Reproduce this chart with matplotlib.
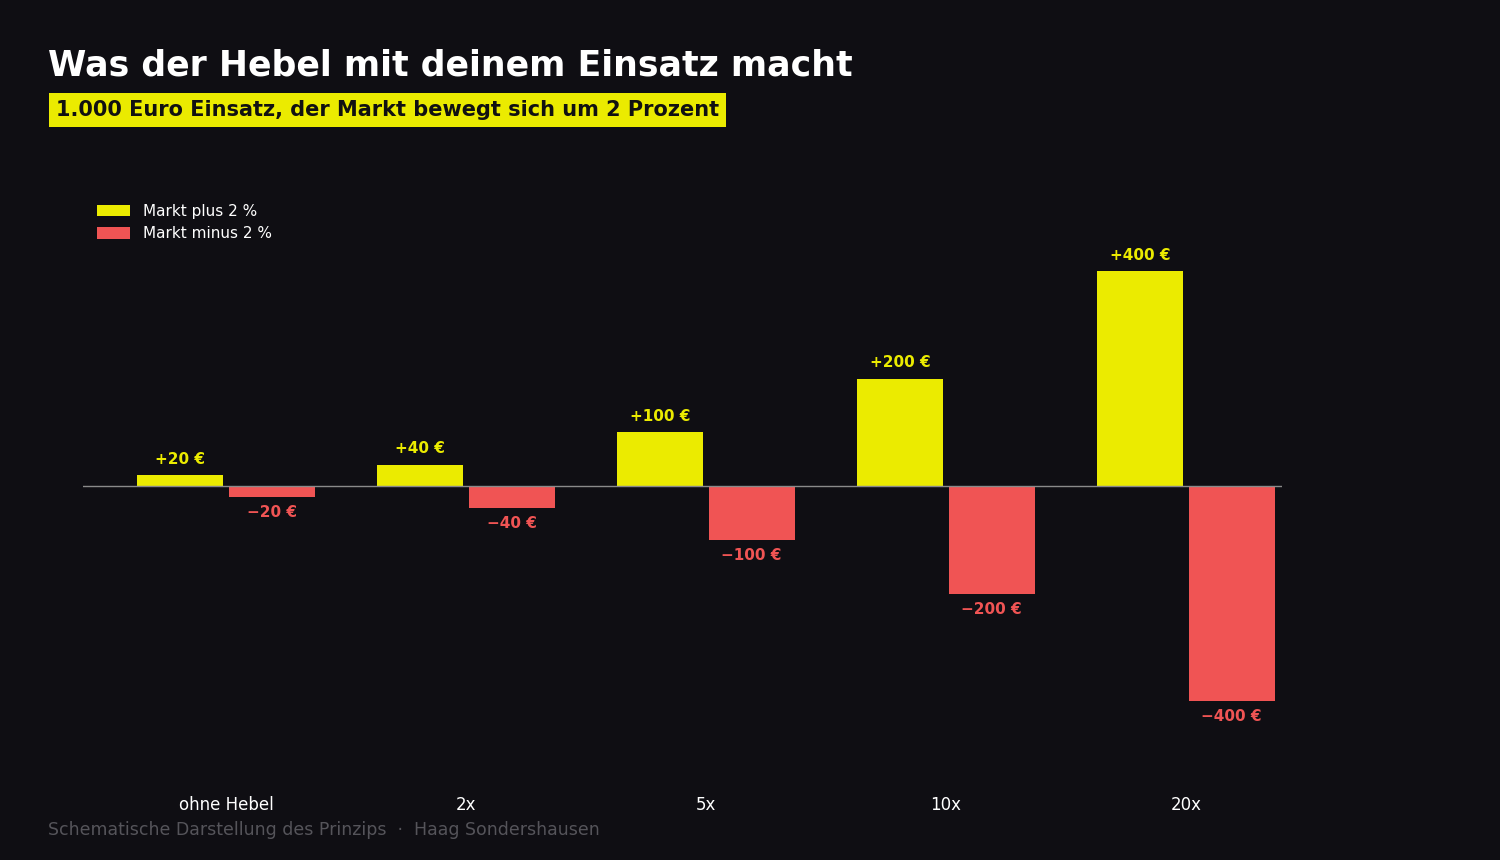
import matplotlib
matplotlib.use("Agg")
import matplotlib.pyplot as plt
import numpy as np

categories = ["ohne Hebel", "2x", "5x", "10x", "20x"]
plus_vals = [20, 40, 100, 200, 400]
minus_vals = [-20, -40, -100, -200, -400]

BG = "#0f0e13"
YEL = "#ebeb00"
RED = "#f05454"

fig = plt.figure(figsize=(15, 8.6), dpi=100, facecolor=BG)
ax = fig.add_axes([83/1500, 1-785/860, 1199/1500, 625/860], facecolor=BG)

x = np.arange(len(categories))
w = 0.358
off = 0.19
b1 = ax.bar(x - off, plus_vals, w, color=YEL, label="Markt plus 2 %")
b2 = ax.bar(x + off, minus_vals, w, color=RED, label="Markt minus 2 %")
for xi, v in zip(x, plus_vals):
    ax.annotate(f"+{v} €", (xi - off, v), xytext=(0, 6), textcoords="offset points",
                ha="center", va="bottom", color=YEL, fontsize=11, fontweight="bold")
for xi, v in zip(x, minus_vals):
    ax.annotate(f"\u2212{abs(v)} €", (xi + off, v), xytext=(0, -6), textcoords="offset points",
                ha="center", va="top", color=RED, fontsize=11, fontweight="bold")

ax.axhline(0, color="#8a8a8a", lw=1)
ax.set_xlim(-0.596, 4.4)
ax.set_ylim(-556, 606.5)
ax.set_xticks(x)
ax.set_xticklabels(categories, color="white", fontsize=12)
ax.tick_params(axis="x", length=0, pad=8)
ax.set_yticks([])
for s in ax.spines.values():
    s.set_visible(False)

leg = ax.legend(loc="upper left", bbox_to_anchor=(0.0, 1.0 - 30/625), frameon=False,
                fontsize=11, labelcolor="white", handlelength=2.2, handleheight=0.8)

fig.text(48/1500, 1-65/860, "Was der Hebel mit deinem Einsatz macht", color="white",
         fontsize=25, fontweight="bold", va="center")
fig.text(56/1500, 1-110/860, "1.000 Euro Einsatz, der Markt bewegt sich um 2 Prozent", color="#111111",
         fontsize=15, fontweight="bold", va="center",
         bbox=dict(boxstyle="square,pad=0.35", facecolor=YEL, edgecolor="none"))
fig.text(48/1500, 1-830/860, "Schematische Darstellung des Prinzips  ·  Haag Sondershausen",
         color="#55545a", fontsize=12.5, va="center")

fig.savefig("out.png", dpi=100, facecolor=BG)
